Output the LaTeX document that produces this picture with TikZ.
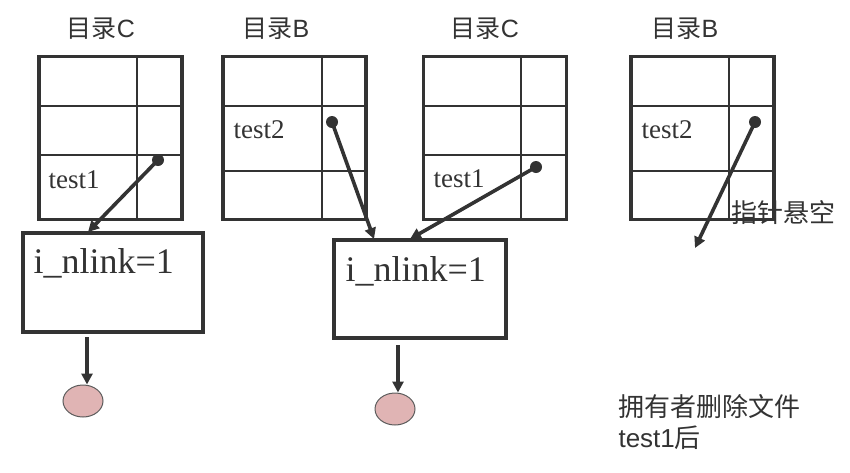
\documentclass[tikz,border=0pt]{standalone}
\usepackage{fontspec}
\setmainfont{Liberation Serif}
\setsansfont{Liberation Sans}
\newfontfamily\cjk{Noto Sans CJK SC}
\usetikzlibrary{arrows.meta,shapes.geometric}
\definecolor{ink}{HTML}{333333}
\definecolor{pinkfill}{HTML}{E0B4B4}
\tikzset{
  tbl/.style={draw=ink, line width=3.6pt, minimum width=143pt, minimum height=163pt, inner sep=0pt},
  inodebox/.style={draw=ink, line width=3.6pt, inner sep=0pt},
  gridline/.style={draw=ink, line width=1.5pt},
  ptr/.style={draw=ink, line width=3.6pt, -{Triangle[length=11pt,width=11pt]}},
  dotp/.style={circle, fill=ink, minimum size=12pt, inner sep=0pt},
  blob/.style={ellipse, draw=ink!80, line width=1pt, fill=pinkfill, minimum width=40pt, minimum height=32pt, inner sep=0pt},
  hdr/.style={text=ink, font=\fontsize{25}{28}\selectfont},
  cell/.style={text=ink, anchor=base west, font=\fontsize{27}{30}\selectfont},
  big/.style={text=ink, anchor=base west, font=\fontsize{36}{40}\selectfont},
  note/.style={text=ink, anchor=west, font=\fontsize{26}{30}\selectfont},
}
\begin{document}
\begin{tikzpicture}[x=1pt,y=-1pt]
\useasboundingbox (0,0) rectangle (850,472);
% headers
\node[hdr] (h1) at (101,29) {{\cjk 目录}{\sffamily C}};
\node[hdr] (h2) at (276,29) {{\cjk 目录}{\sffamily B}};
\node[hdr] (h3) at (485,29) {{\cjk 目录}{\sffamily C}};
\node[hdr] (h4) at (685,29) {{\cjk 目录}{\sffamily B}};
% tables
\node[tbl] (t1) at (110.5,138) {};
\node[tbl] (t2) at (294.5,138) {};
\node[tbl] (t3) at (495,138) {};
\node[tbl] (t4) at (702.5,138) {};
% grid lines table 1
\draw[gridline] (39,106) -- (182,106);
\draw[gridline] (39,155) -- (182,155);
\draw[gridline] (137,57) -- (137,220);
% table 2
\draw[gridline] (222,106) -- (367,106);
\draw[gridline] (222,171) -- (367,171);
\draw[gridline] (322,57) -- (322,220);
% table 3
\draw[gridline] (423,106) -- (567,106);
\draw[gridline] (423,155) -- (567,155);
\draw[gridline] (521,57) -- (521,220);
% table 4
\draw[gridline] (631,106) -- (774,106);
\draw[gridline] (631,171) -- (774,171);
\draw[gridline] (729,57) -- (729,220);
% cell texts
\node[cell] (c1) at (45,188) {test1};
\node[cell] (c2) at (230,138) {test2};
\node[cell] (c3) at (430,187) {test1};
\node[cell] (c4) at (638,138) {test2};
% inode boxes
\node[inodebox, minimum width=180pt, minimum height=99pt] (b1) at (113,282.5) {};
\node[inodebox, minimum width=172pt, minimum height=98pt] (b2) at (420,289) {};
\node[big] (n1) at (30,273) {i\_nlink=1};
\node[big] (n2) at (342,281) {i\_nlink=1};
% dots
\node[dotp] (d1) at (158,160) {};
\node[dotp] (d2) at (332,122) {};
\node[dotp] (d3) at (536,167) {};
\node[dotp] (d4) at (755,122) {};
% arrow targets
\coordinate (e1) at (88,232);
\coordinate (e2) at (374,239);
\coordinate (e3) at (410,239);
\coordinate (e4) at (695,248);
\draw[ptr] (d1.center) -- (e1);
\draw[ptr] (d2.center) -- (e2);
\draw[ptr] (d3.center) -- (e3);
\draw[ptr] (d4.center) -- (e4);
% blobs
\node[blob] (o1) at (83,401) {};
\node[blob] (o2) at (395,409) {};
\coordinate (s1) at (87,337);
\coordinate (s2) at (398,345);
\draw[ptr] (s1) -- (o1.north -| s1);
\draw[ptr] (s2) -- (o2.north -| s2);
% notes
\node[note] (x1) at (728,213) {\cjk 指针悬空};
\node[note] (x2) at (615,407) {\cjk 拥有者删除文件};
\node[note] (x3) at (615,438) {{\sffamily test1}{\cjk 后}};
\end{tikzpicture}
\end{document}
